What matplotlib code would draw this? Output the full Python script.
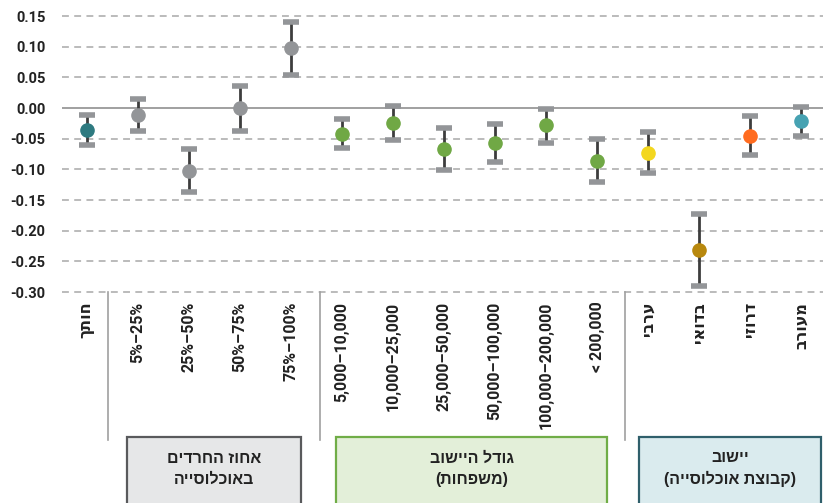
import matplotlib
matplotlib.use("Agg")
import matplotlib.pyplot as plt
from matplotlib.patches import Rectangle
import matplotlib.transforms as mtransforms

plt.rcParams['font.family'] = ['Roboto', 'DejaVu Sans']

# data (logical order of the Hebrew labels)
labels = ['חותך', '5%–25%', '25%–50%', '50%–75%', '75%–100%',
          '5,000–10,000', '10,000–25,000', '25,000–50,000', '50,000–100,000',
          '100,000–200,000', '< 200,000', 'ערבי', 'בדואי', 'דרוזי', 'מעורב']
est = [-0.036, -0.011, -0.102, 0.000, 0.098,
       -0.042, -0.024, -0.067, -0.057, -0.028, -0.086,
       -0.073, -0.232, -0.045, -0.021]
upper = [-0.012, 0.014, -0.067, 0.036, 0.141,
         -0.018, 0.004, -0.033, -0.026, -0.001, -0.051,
         -0.039, -0.173, -0.013, 0.001]
lower = [-0.060, -0.037, -0.137, -0.038, 0.053,
         -0.066, -0.052, -0.101, -0.088, -0.057, -0.121,
         -0.106, -0.291, -0.077, -0.045]
colors = ['#2e7a80', '#939598', '#939598', '#939598', '#939598',
          '#70a845', '#70a845', '#70a845', '#70a845', '#70a845', '#70a845',
          '#f3d71f', '#b8880e', '#ff6b1f', '#46a2b2']
groups = [('אחוז החרדים\nבאוכלוסייה', 0.78, 4.2, '#e6e7e8', '#595a5c'),
          ('גודל היישוב\n(משפחות)', 4.88, 10.2, '#e3efd9', '#70ad47'),
          ('יישוב\n(קבוצת אוכלוסייה)', 10.82, 14.4, '#daebee', '#2f5f6b')]
separators = [0.42, 4.57, 10.55]


def visual(s):
    # matplotlib has no bidi support, so put Hebrew into visual order
    if not any('\u0590' <= c <= '\u05ff' for c in s):
        return s
    out = []
    for line in s.split('\n'):
        r = line[::-1]
        r = r.replace('(', '\0').replace(')', '(').replace('\0', ')')
        out.append(r)
    return '\n'.join(out)


fig = plt.figure(figsize=(8.23, 5.03), dpi=100)
ax = fig.add_axes([62 / 823, 1 - 292 / 503, 761 / 823, 276 / 503])

x = list(range(len(labels)))
for i in x:
    ax.plot([i, i], [lower[i], upper[i]], color='#3d3d3d', lw=2, zorder=3,
            solid_capstyle='butt')
ax.plot(x, upper, ls='none', marker='_', ms=11.5, mew=4, color='#939598', zorder=4)
ax.plot(x, lower, ls='none', marker='_', ms=11.5, mew=4, color='#939598', zorder=4,
        clip_on=False)
for i in x:
    ax.plot(i, est[i], 'o', ms=9.5, color=colors[i], zorder=5)

ax.set_xlim(-0.49, 14.43)
ax.set_ylim(-0.30, 0.15)
ax.set_yticks([0.15, 0.10, 0.05, 0.0, -0.05, -0.10, -0.15, -0.20, -0.25, -0.30])
ax.set_yticklabels(['%.2f' % v for v in ax.get_yticks()], fontsize=10.5,
                   fontweight='bold', color='#222222')
for v in ax.get_yticks():
    if v == 0:
        ax.axhline(0, color='#999999', lw=1.3, zorder=1)
    else:
        ax.axhline(v, color='#a8a8a8', lw=1.1, ls=(0, (4.5, 3.5)), zorder=1,
                   clip_on=False)
ax.set_xticks(x)
ax.set_xticklabels([visual(l) for l in labels], rotation=90, fontsize=11.5,
                   fontweight='bold', color='#222222', va='top')
ax.tick_params(axis='both', length=0)
ax.tick_params(axis='y', pad=12)
ax.tick_params(axis='x', pad=7)
for s in ax.spines.values():
    s.set_visible(False)

trans = mtransforms.blended_transform_factory(ax.transData, ax.transAxes)
for sx in separators:
    ax.plot([sx, sx], [0, -0.536], color='#a0a0a0', lw=1.2, transform=trans,
            clip_on=False)

for text, x0, x1, fc, ec in groups:
    ax.add_patch(Rectangle((x0, -0.9), x1 - x0, 0.9 - 0.525, transform=trans,
                           facecolor=fc, edgecolor=ec, lw=1.6, clip_on=False))
    ax.text((x0 + x1) / 2, -0.64, visual(text), transform=trans, ha='center',
            va='center', fontsize=11.5, fontweight='bold', color='#222222',
            linespacing=1.5, family=['Liberation Sans', 'DejaVu Sans'])

fig.savefig('out.png', dpi=100)
